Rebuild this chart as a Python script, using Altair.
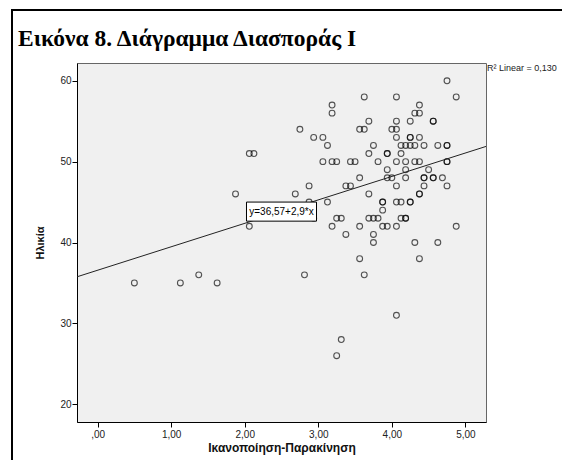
import altair as alt
import pandas as pd

# Scatter data: satisfaction/motivation score and age
sat = [
    4.75,
    3.625, 4.0625, 4.875,
    3.1875, 4.375,
    3.1875, 4.3125, 4.375,
    3.6875, 4.0625, 4.25, 4.5625, 4.5625,
    2.75, 3.5625, 3.625, 4.0, 4.0625,
    2.9375, 3.0625, 4.0625, 4.25, 4.25, 4.375,
    3.125, 3.75, 4.125, 4.1875, 4.25, 4.3125, 4.4375, 4.625, 4.75, 4.75,
    2.0625, 2.125, 3.6875, 3.9375, 3.9375, 4.125,
    3.0625, 3.1875, 3.25, 3.4375, 3.5, 3.8125, 4.0625, 4.1875, 4.3125, 4.375, 4.75, 4.75,
    3.9375, 4.1875, 4.5,
    3.5625, 3.9375, 4.0, 4.1875, 4.4375, 4.4375, 4.5625, 4.5625, 4.6875,
    2.875, 3.375, 3.4375, 4.0625, 4.4375, 4.75,
    1.875, 2.6875, 3.6875, 4.375, 4.375,
    2.875, 3.125, 3.875, 3.875, 4.0625, 4.125, 4.25, 4.25,
    3.875,
    2.9375, 3.25, 3.3125, 3.6875, 3.75, 3.8125, 4.125, 4.1875, 4.1875,
    2.0625, 3.1875, 3.5625, 3.875, 3.9375, 4.0625, 4.875,
    3.375, 3.75,
    3.75, 4.3125, 4.625,
    3.5625, 4.375,
    1.375, 2.8125, 3.625,
    0.5, 1.125, 1.625,
    4.0625,
    3.3125,
    3.25,
]
age = (
    [60]
    + [58] * 3
    + [57] * 2
    + [56] * 3
    + [55] * 5
    + [54] * 5
    + [53] * 6
    + [52] * 10
    + [51] * 6
    + [50] * 12
    + [49] * 3
    + [48] * 9
    + [47] * 6
    + [46] * 5
    + [45] * 8
    + [44] * 1
    + [43] * 9
    + [42] * 7
    + [41] * 2
    + [40] * 3
    + [38] * 2
    + [36] * 3
    + [35] * 3
    + [31]
    + [28]
    + [26]
)

intercept = 36.57
slope = 2.9
x_domain = [-0.28, 5.28]
y_domain = [17.8, 62.2]
x_ticks = [0, 1, 2, 3, 4, 5]
y_ticks = [20, 30, 40, 50, 60]
title_text = "Εικόνα 8. Διάγραμμα Διασποράς Ι"
x_title = "Ικανοποίηση-Παρακίνηση"
y_title = "Ηλικία"
eq_text = "y=36,57+2,9*x"
r2_text = "R² Linear = 0,130"
label_x = 2.5

FONT = "Liberation Sans"

pts = pd.DataFrame({"x": sat, "y": age})
line_df = pd.DataFrame({"x": x_domain, "y": [intercept + slope * v for v in x_domain]})
label_y = intercept + slope * label_x
label_df = pd.DataFrame({
    "x": [label_x - 0.476], "x2": [label_x + 0.476],
    "y": [label_y - 1.18], "y2": [label_y + 1.18],
    "cx": [label_x], "cy": [label_y], "t": [eq_text],
})

xs = alt.Scale(domain=x_domain, nice=False, zero=False)
ys = alt.Scale(domain=y_domain, nice=False, zero=False)

x_axis = alt.Axis(values=x_ticks, title=x_title,
                  labelExpr="datum.value == 0 ? ',00' : datum.value + ',00'",
                  tickSize=5, labelPadding=2, titlePadding=3,
                  titleFont=FONT, titleFontSize=12, titleFontWeight="bold", titleColor="#111",
                  labelFont=FONT, labelFontSize=10, labelColor="#222")
y_axis = alt.Axis(values=y_ticks, title=y_title,
                  tickSize=5, labelPadding=1,
                  titleFont=FONT, titleFontSize=11, titleFontWeight="bold", titleColor="#111",
                  titleX=-37, titleBaseline="middle",
                  labelFont=FONT, labelFontSize=10, labelColor="#222")

points = alt.Chart(pts).mark_point(shape="circle", filled=False, size=34, strokeWidth=1.1,
                                   color="black", opacity=0.66).encode(
    x=alt.X("x:Q", scale=xs, axis=x_axis),
    y=alt.Y("y:Q", scale=ys, axis=y_axis),
)

reg = alt.Chart(line_df).mark_line(color="#222", strokeWidth=1).encode(
    x=alt.X("x:Q", scale=xs), y=alt.Y("y:Q", scale=ys))

box = alt.Chart(label_df).mark_rect(fill="white", stroke="black", strokeWidth=1).encode(
    x=alt.X("x:Q", scale=xs), x2="x2:Q", y=alt.Y("y:Q", scale=ys), y2="y2:Q")
box_text = alt.Chart(label_df).mark_text(font=FONT, fontSize=10, color="black").encode(
    x=alt.X("cx:Q", scale=xs), y=alt.Y("cy:Q", scale=ys), text="t:N")

one = pd.DataFrame({"t": [r2_text]})
r2 = alt.Chart(one).mark_text(font=FONT, fontSize=9, color="#222", align="left", baseline="middle").encode(
    x=alt.value(410), y=alt.value(5), text="t:N")

title_df = pd.DataFrame({"t": [title_text]})
title = alt.Chart(title_df).mark_text(font="Liberation Serif", fontSize=23.5, fontWeight="bold",
                                      color="black", align="left", baseline="alphabetic").encode(
    x=alt.value(-59), y=alt.value(-17), text="t:N")

frame_v = alt.Chart(one).mark_rule(color="black", strokeWidth=2).encode(
    x=alt.value(-65), y=alt.value(-53), y2=alt.value(420))
frame_h = alt.Chart(one).mark_rule(color="black", strokeWidth=2).encode(
    x=alt.value(-66), x2=alt.value(520), y=alt.value(-53))

chart = alt.layer(points, reg, box, box_text, r2, title, frame_v, frame_h).properties(
    width=409, height=359,
    autosize=alt.AutoSizeParams(type="none"),
    padding={"left": 69, "top": 55, "right": 76, "bottom": 38},
).configure_view(
    fill="#f0f0f0", stroke="#666", strokeWidth=1
).configure_axis(
    grid=False, domainColor="black", tickColor="black", domainWidth=1
)

chart.save("out.html", embed_options={"renderer": "svg", "actions": False})
